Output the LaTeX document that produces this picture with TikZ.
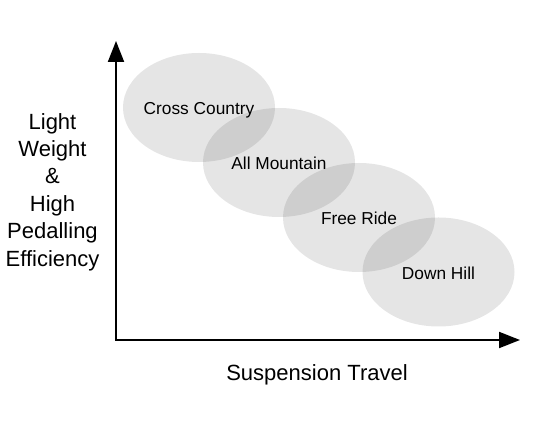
\documentclass[tikz,border=0pt]{standalone}
\usepackage{fontspec}
\setmainfont{Liberation Sans}
\usetikzlibrary{shapes.geometric, arrows.meta, positioning}

\begin{document}
\begin{tikzpicture}[
  x=1pt, y=1pt,
  zone/.style={ellipse, fill=black, fill opacity=0.1, minimum width=152pt, minimum height=109pt, inner sep=0pt},
  tag/.style={anchor=base, inner sep=0pt, font=\fontsize{17.3}{20}\selectfont},
  axis/.style={{Triangle[length=21pt, width=16pt]}-{Triangle[length=21pt, width=16pt]}, line width=2pt},
]
  \useasboundingbox (0,0) rectangle (540,422);

  % Riding styles
  \node[zone] (cc) at (199,314.5) {};
  \node[zone] (am) at (279,259.5) {};
  \node[zone] (fr) at (359,204.5) {};
  \node[zone] (dh) at (438.5,150) {};

  \node[tag] (cc-text) at ([yshift=-7.5pt]cc.center) {Cross Country};
  \node[tag] (am-text) at ([yshift=-7.5pt]am.center) {All Mountain};
  \node[tag] (fr-text) at ([yshift=-7.5pt]fr.center) {Free Ride};
  \node[tag] (dh-text) at ([yshift=-7.5pt]dh.center) {Down Hill};

  % Axes
  \coordinate (origin) at (116,82);
  \coordinate (ytop) at (116,381);
  \coordinate (xend) at (520,82);
  \draw[axis] (ytop) -- (origin) -- (xend);

  % Axis labels
  \node[align=center, inner sep=0pt, font=\fontsize{22}{27.4}\selectfont] (ylabel) at (52.5,230)
    {Light\\Weight\\\&\\High\\Pedalling\\Efficiency};
  \node[anchor=base, inner sep=0pt, font=\fontsize{22}{26}\selectfont] (xlabel) at (317,41) {Suspension Travel};
\end{tikzpicture}
\end{document}
